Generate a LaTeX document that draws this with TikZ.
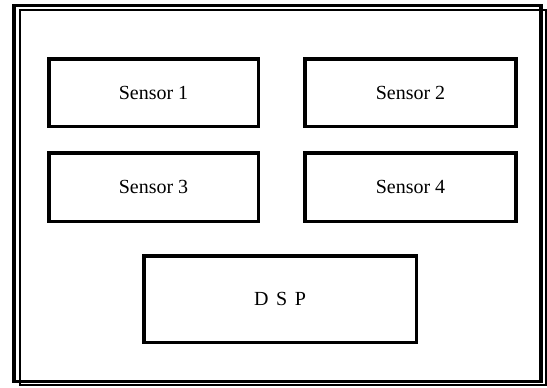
\documentclass[tikz,border=0pt]{standalone}
\usepackage{fontspec}
\setmainfont{Liberation Serif}
\begin{document}
\begin{tikzpicture}[x=1pt,y=-1pt,
  blk/.style={draw,line width=3.5pt,inner sep=0pt,font=\fontsize{20}{24}\selectfont},
  frameA/.style={draw,line width=3.5pt},
  frameB/.style={draw,line width=2pt}]
\useasboundingbox (0,0) rectangle (547,388);
\draw[frameA] (14,5.5) rectangle (541,381.5);
\draw[frameB] (19.5,10) rectangle (545.5,384.5);
\node[blk,minimum width=209.5pt,minimum height=67.5pt] (s1) at (153.5,92.5) {Sensor 1};
\node[blk,minimum width=211pt,minimum height=67.5pt] (s2) at (410.5,92.5) {Sensor 2};
\node[blk,minimum width=209.5pt,minimum height=68.5pt] (s3) at (153.5,187) {Sensor 3};
\node[blk,minimum width=211pt,minimum height=68.5pt] (s4) at (410.5,187) {Sensor 4};
\node[blk,minimum width=272.5pt,minimum height=86.5pt] (dsp) at (280,299) {\spaceskip=0.38em D S P};
\end{tikzpicture}
\end{document}
